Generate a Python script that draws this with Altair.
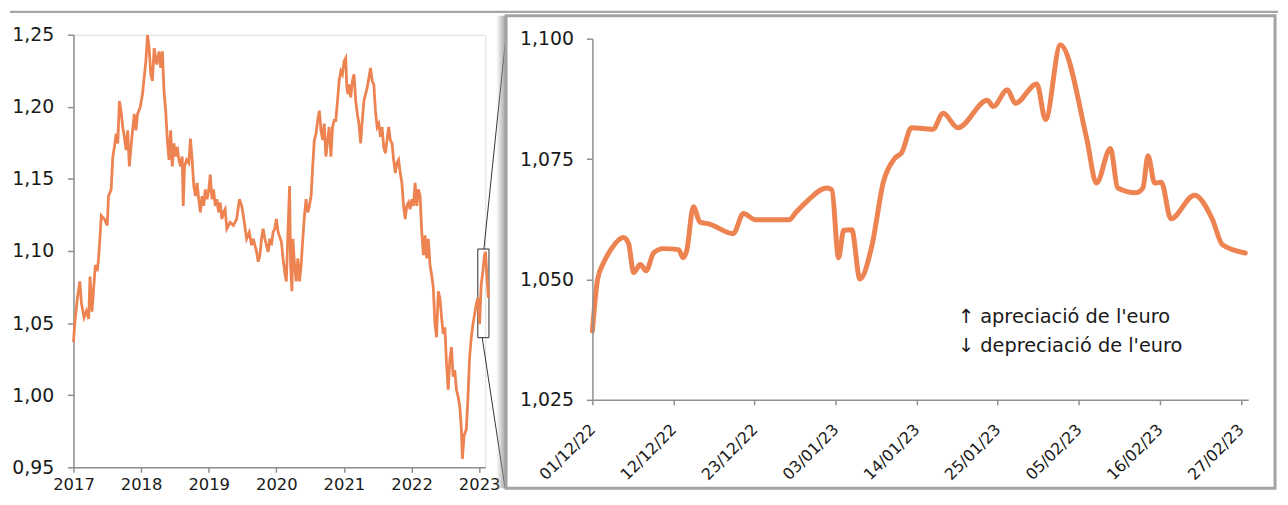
import altair as alt
import pandas as pd

# ---------------- data ----------------
# Left panel: EUR/USD, decimal years
left_t = [
    2017.000, 2017.020, 2017.059, 2017.093, 2017.117, 2017.156, 2017.191, 2017.225, 2017.244, 2017.274,
    2017.323, 2017.352, 2017.371, 2017.391, 2017.411, 2017.459, 2017.499, 2017.518, 2017.557, 2017.582,
    2017.606, 2017.631, 2017.655, 2017.679, 2017.704, 2017.728, 2017.753, 2017.777, 2017.802, 2017.826,
    2017.860, 2017.899, 2017.924, 2017.948, 2017.987, 2018.021, 2018.070, 2018.095, 2018.119, 2018.144,
    2018.168, 2018.193, 2018.232, 2018.266, 2018.290, 2018.315, 2018.339, 2018.364, 2018.388, 2018.413,
    2018.437, 2018.461, 2018.486, 2018.510, 2018.535, 2018.559, 2018.584, 2018.608, 2018.623, 2018.642,
    2018.672, 2018.706, 2018.730, 2018.755, 2018.779, 2018.804, 2018.828, 2018.852, 2018.877, 2018.901,
    2018.926, 2018.950, 2018.975, 2018.999, 2019.023, 2019.048, 2019.072, 2019.097, 2019.121, 2019.146,
    2019.170, 2019.195, 2019.219, 2019.243, 2019.268, 2019.317, 2019.366, 2019.414, 2019.454, 2019.488,
    2019.512, 2019.561, 2019.600, 2019.634, 2019.659, 2019.708, 2019.732, 2019.757,
    2019.781, 2019.805, 2019.830, 2019.879, 2019.903, 2019.928, 2019.952, 2019.977, 2020.001, 2020.026,
    2020.075, 2020.099, 2020.123, 2020.148, 2020.172, 2020.196, 2020.211, 2020.231, 2020.245, 2020.270,
    2020.294, 2020.318, 2020.343, 2020.367, 2020.392, 2020.416, 2020.440, 2020.465, 2020.489, 2020.514,
    2020.538, 2020.562, 2020.587, 2020.611, 2020.636, 2020.660, 2020.685, 2020.709, 2020.733, 2020.758,
    2020.782, 2020.807, 2020.832, 2020.856, 2020.880, 2020.905, 2020.929, 2020.954, 2020.978, 2021.002,
    2021.027, 2021.042, 2021.061, 2021.076, 2021.100, 2021.125, 2021.149, 2021.174, 2021.198, 2021.222,
    2021.247, 2021.271, 2021.296, 2021.320, 2021.344, 2021.369, 2021.393, 2021.418, 2021.442, 2021.466,
    2021.491, 2021.515, 2021.540, 2021.564, 2021.588, 2021.613, 2021.637, 2021.662, 2021.686, 2021.711,
    2021.735, 2021.760, 2021.784, 2021.808, 2021.833, 2021.857, 2021.882, 2021.906, 2021.930, 2021.955,
    2021.979, 2022.004, 2022.028, 2022.053, 2022.077, 2022.102, 2022.126, 2022.151, 2022.175, 2022.200,
    2022.224, 2022.248, 2022.273, 2022.297, 2022.322, 2022.346, 2022.370, 2022.395, 2022.419, 2022.444,
    2022.468, 2022.493, 2022.517, 2022.542, 2022.566, 2022.590, 2022.615, 2022.639, 2022.664, 2022.688,
    2022.713, 2022.737, 2022.752, 2022.776, 2022.810, 2022.835, 2022.859, 2022.884, 2022.908, 2022.933,
    2022.957, 2022.981, 2023.006, 2023.030, 2023.055, 2023.079, 2023.094, 2023.119, 2023.138,
]
left_v = [
    1.0368, 1.0505, 1.0676, 1.0789, 1.0640, 1.0539, 1.0584, 1.0530, 1.0823, 1.0580,
    1.0903, 1.0860, 1.0950, 1.1085, 1.1245, 1.1220, 1.1177, 1.1380, 1.1427, 1.1655,
    1.1723, 1.1814, 1.1746, 1.2040, 1.1970, 1.1860, 1.1790, 1.1700, 1.1837, 1.1586,
    1.1769, 1.1951, 1.1837, 1.1951, 1.1997, 1.2088, 1.2315, 1.2498, 1.2407, 1.2224,
    1.2179, 1.2407, 1.2293, 1.2384, 1.2270, 1.2384, 1.2110, 1.1970, 1.1769, 1.1632,
    1.1837, 1.1586, 1.1746, 1.1655, 1.1723, 1.1632, 1.1586, 1.1655, 1.1313, 1.1586,
    1.1632, 1.1609, 1.1780, 1.1632, 1.1450, 1.1381, 1.1473, 1.1359, 1.1268, 1.1381,
    1.1313, 1.1427, 1.1359, 1.1416, 1.1530, 1.1359, 1.1427, 1.1313, 1.1359, 1.1268,
    1.1336, 1.1222, 1.1268, 1.1290, 1.1154, 1.1199, 1.1177, 1.1222, 1.1359, 1.1313,
    1.1245, 1.1085, 1.1130, 1.1040, 1.1085, 1.0994, 1.0926, 1.0971,
    1.1085, 1.1154, 1.1085, 1.0994, 1.1085, 1.1040, 1.1131, 1.1154, 1.1222, 1.1131,
    1.1063, 1.0949, 1.0858, 1.0789, 1.1131, 1.1450, 1.0903, 1.0721, 1.1085, 1.0903,
    1.0789, 1.0949, 1.0789, 1.0903, 1.1085, 1.1245, 1.1359, 1.1268, 1.1313, 1.1381,
    1.1587, 1.1769, 1.1814, 1.1905, 1.1973, 1.1837, 1.1769, 1.1883, 1.1655, 1.1769,
    1.1860, 1.1655, 1.1860, 1.1905, 1.1905, 1.2042, 1.2179, 1.2247, 1.2225, 1.2316,
    1.2338, 1.2133, 1.2088, 1.2156, 1.2065, 1.2179, 1.2225, 1.2042, 1.1951, 1.1883,
    1.1746, 1.1905, 1.2042, 1.2088, 1.2133, 1.2202, 1.2270, 1.2179, 1.2156, 1.1973,
    1.1860, 1.1883, 1.1792, 1.1860, 1.1723, 1.1678, 1.1769, 1.1860, 1.1769, 1.1746,
    1.1632, 1.1541, 1.1609, 1.1632, 1.1541, 1.1473, 1.1313, 1.1222, 1.1313, 1.1336,
    1.1290, 1.1359, 1.1313, 1.1473, 1.1313, 1.1427, 1.1381, 1.1131, 1.0972, 1.1108,
    1.0949, 1.1085, 1.0903, 1.0835, 1.0744, 1.0493, 1.0402, 1.0721, 1.0675, 1.0539,
    1.0425, 1.0470, 1.0220, 1.0038, 1.0243, 1.0334, 1.0129, 1.0174, 1.0038, 0.9992,
    0.9924, 0.9764, 0.9559, 0.9719, 0.9764, 0.9992, 1.0265, 1.0402, 1.0493, 1.0561,
    1.0630, 1.0675, 1.0493, 1.0767, 1.0858, 1.0972, 1.0994, 1.0789, 1.0675,
]

# Right panel: days since 01/12/22
right_d = [
    0, 0.7, 1.5, 2.5, 4.2, 4.9, 5.6, 6.5, 7.3, 8.3, 9.6, 11.7, 12.3, 12.8, 13.7, 14.6, 15.9,
    19.1, 20.5, 22.1, 26.7, 27.6, 28.9, 31.8, 32.5, 33.4, 34.1, 35.2, 36.3, 37.9, 39.5, 41.0,
    42.0, 43.3, 46.2, 47.6, 49.6, 53.6, 54.4, 56.3, 57.4, 60.3, 61.5, 63.5, 67.1, 68.4, 70.3,
    71.3, 73.8, 74.7, 75.4, 76.3, 77.2, 78.5, 81.7, 84.1, 85.5, 88.6,
]
right_v = [
    1.0393, 1.0500, 1.0534, 1.0562, 1.0587, 1.0575, 1.0514, 1.0531, 1.0518, 1.0555, 1.0564,
    1.0562, 1.0545, 1.0560, 1.0651, 1.0619, 1.0615, 1.0595, 1.0637, 1.0624, 1.0624, 1.0639,
    1.0659, 1.0690, 1.0686, 1.0545, 1.0602, 1.0603, 1.0501, 1.0568, 1.0703, 1.0751, 1.0764,
    1.0815, 1.0812, 1.0845, 1.0815, 1.0872, 1.0859, 1.0894, 1.0866, 1.0906, 1.0832, 1.0987,
    1.0791, 1.0700, 1.0772, 1.0690, 1.0680, 1.0690, 1.0757, 1.0700, 1.0702, 1.0626, 1.0675,
    1.0626, 1.0572, 1.0555,
]

left_year_ticks = [2017, 2018, 2019, 2020, 2021, 2022, 2023]
left_y_ticks = [0.95, 1.00, 1.05, 1.10, 1.15, 1.20, 1.25]
right_day_ticks = [0, 11, 22, 33, 44, 55, 66, 77, 88]
right_day_labels = ["01/12/22", "12/12/22", "23/12/22", "03/01/23", "14/01/23",
                    "25/01/23", "05/02/23", "16/02/23", "27/02/23"]
right_y_ticks = [1.025, 1.050, 1.075, 1.100]

zoom_t = [2022.98, 2023.145]
zoom_v = [1.0399, 1.1014]

annot_labels = ["\u2191 apreciaci\u00f3 de l'euro", "\u2193 depreciaci\u00f3 de l'euro"]
annot_d = [49.6, 49.6]
annot_v = [1.0422, 1.0361]

# ---------------- styling ----------------
ORANGE = "#EE8352"
AXIS_GRAY = "#8f8f8f"
FONT = "DejaVu Sans"
LW, LH = 415, 436
RW, RH = 661, 368

one = pd.DataFrame({"k": [0]})

axis_common = dict(domainColor=AXIS_GRAY, domainWidth=1.5, tickColor=AXIS_GRAY, tickWidth=1.5,
                   labelColor="#1a1a1a", labelFont=FONT, grid=False, title=None,
                   labelOverlap=False, labelFlush=False)

# ---------------- left chart ----------------
left_df = pd.DataFrame({"t": left_t, "v": left_v})
xl_scale = alt.Scale(domain=[2017, 2023.09], nice=False, zero=False)
yl_scale = alt.Scale(domain=[0.95, 1.25], nice=False, zero=False)

left_line = alt.Chart(left_df).mark_line(color=ORANGE, strokeWidth=2.8).encode(
    x=alt.X("t:Q", scale=xl_scale,
            axis=alt.Axis(values=left_year_ticks, format="d", labelFontSize=16.5, tickSize=5,
                          labelPadding=4, **axis_common)),
    y=alt.Y("v:Q", scale=yl_scale,
            axis=alt.Axis(values=left_y_ticks, labelFontSize=19, tickSize=6, labelPadding=14,
                          labelExpr="replace(format(datum.value, '.2f'), '.', ',')", **axis_common)),
)

box_df = pd.DataFrame({"t0": [zoom_t[0]], "t1": [zoom_t[1]], "v0": [zoom_v[0]], "v1": [zoom_v[1]]})
zoom_rect = alt.Chart(box_df).mark_rect(fillOpacity=0, stroke="#2b2b2b", strokeWidth=1).encode(
    x=alt.X("t0:Q", title=None), x2="t1:Q", y=alt.Y("v0:Q", title=None), y2="v1:Q")

top_conn = alt.Chart(pd.DataFrame({"t": [2023.07], "v": [zoom_v[1]]})).mark_rule(
    color="#333333", strokeWidth=1).encode(
    x=alt.X("t:Q", title=None), y=alt.Y("v:Q", title=None), x2=alt.value(438), y2=alt.value(-19))
bot_conn = alt.Chart(pd.DataFrame({"t": [2023.045], "v": [zoom_v[0]]})).mark_rule(
    color="#333333", strokeWidth=1).encode(
    x=alt.X("t:Q", title=None), y=alt.Y("v:Q", title=None), x2=alt.value(435), y2=alt.value(457))

top_line = alt.Chart(one).mark_rule(color="#a6a6a6", strokeWidth=2.5).encode(
    x=alt.value(-64), x2=alt.value(1214), y=alt.value(-23))

left = alt.layer(top_line, top_conn, bot_conn, zoom_rect, left_line).properties(width=LW, height=LH)

# ---------------- right chart ----------------
right_df = pd.DataFrame({"d": right_d, "v": right_v})
xr_scale = alt.Scale(domain=[0, 89], nice=False, zero=False)
yr_scale = alt.Scale(domain=[1.025, 1.100], range=[RH, 4], nice=False, zero=False)

label_arr = "[" + ",".join("'" + s + "'" for s in right_day_labels) + "]"

shadow = alt.Chart(one).mark_rect(
    fill=alt.Gradient(gradient="linear", x1=0, x2=1, y1=0, y2=0,
                      stops=[alt.GradientStop(color="rgba(150,150,150,0)", offset=0),
                             alt.GradientStop(color="rgba(140,140,140,0.85)", offset=1)])
).encode(x=alt.value(-97), x2=alt.value(-87), y=alt.value(-19), y2=alt.value(457))

panel = alt.Chart(one).mark_rect(fill="white", stroke="#a3a3a3", strokeWidth=3).encode(
    x=alt.value(-87), x2=alt.value(688), y=alt.value(-19), y2=alt.value(457))

right_line = alt.Chart(right_df).mark_line(color=ORANGE, strokeWidth=5, interpolate="monotone",
                                           strokeJoin="round", strokeCap="round").encode(
    x=alt.X("d:Q", scale=xr_scale,
            axis=alt.Axis(values=right_day_ticks, labelExpr=label_arr + "[round(datum.value/11)]",
                          labelAngle=-45, labelAlign="right", labelBaseline="middle",
                          labelFontSize=16, tickSize=5, labelPadding=22, zindex=1, **axis_common)),
    y=alt.Y("v:Q", scale=yr_scale,
            axis=alt.Axis(values=right_y_ticks, labelFontSize=19, tickSize=6, labelPadding=13,
                          labelExpr="replace(format(datum.value, '.3f'), '.', ',')",
                          zindex=1, **axis_common)),
)

annot_df = pd.DataFrame({"d": annot_d, "v": annot_v, "label": annot_labels})
annot = alt.Chart(annot_df).mark_text(align="left", baseline="middle", fontSize=19.5,
                                      font=FONT, color="#1a1a1a").encode(
    x=alt.X("d:Q", title=None), y=alt.Y("v:Q", title=None), text="label:N")

right = alt.layer(shadow, panel, right_line, annot).properties(width=RW, height=RH)

chart = alt.hconcat(left, right, spacing=108, bounds="flush").properties(
    padding=0
).configure_view(stroke=None).configure(background="white")

chart.save("out.html", embed_options={"renderer": "svg", "actions": False})
